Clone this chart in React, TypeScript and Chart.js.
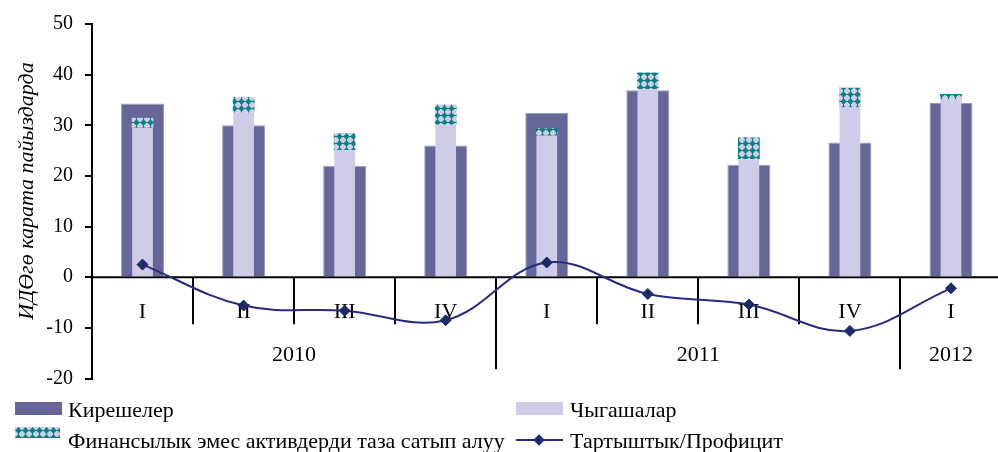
import React, { useEffect, useRef, useMemo } from 'react';
import { Chart, registerables } from 'chart.js';

Chart.register(...registerables);

const QUARTERS = ['I', 'II', 'III', 'IV', 'I', 'II', 'III', 'IV', 'I'];
const YEARS = ['2010', '2011', '2012'];
const YEAR_SPANS = [4, 4, 1];
const REVENUES = [34.3, 30.0, 22.0, 26.0, 32.5, 36.9, 22.2, 26.6, 34.4];
const EXPENSES = [29.5, 32.5, 25.1, 30.1, 28.0, 37.1, 23.3, 33.5, 35.1];
const NONFIN = [2.0, 3.1, 3.4, 4.0, 1.4, 3.3, 4.3, 3.9, 1.1];
const BALANCE = [2.5, -5.6, -6.6, -8.5, 2.9, -3.3, -5.4, -10.6, -2.2];
const Y_MIN = -20;
const Y_MAX = 50;
const Y_STEP = 10;
const Y_TITLE = 'ИДӨгө карата пайыздарда';
const LABELS = {
  rev: 'Кирешелер',
  exp: 'Чыгашалар',
  nonfin: 'Финансылык эмес активдерди таза сатып алуу',
  bal: 'Тартыштык/Профицит',
};

const C_REV = '#666699';
const C_EXP = '#CECCE6';
const C_TEAL = '#0A8080';
const C_LINE = '#2A2A80';
const C_POINT = '#1E2B6B';
const FONT = '"Liberation Serif", "Times New Roman", serif';

function makePatternCanvas() {
  const c = document.createElement('canvas');
  c.width = 7;
  c.height = 7;
  const g = c.getContext('2d')!;
  g.fillStyle = C_EXP;
  g.fillRect(0, 0, 7, 7);
  g.fillStyle = C_TEAL;
  g.fillRect(3, 0, 1, 7);
  g.fillRect(0, 3, 7, 1);
  g.beginPath();
  g.moveTo(3.5, 0.3);
  g.lineTo(6.7, 3.5);
  g.lineTo(3.5, 6.7);
  g.lineTo(0.3, 3.5);
  g.closePath();
  g.fill();
  g.fillStyle = C_EXP;
  g.beginPath();
  g.arc(0, 0, 1.6, 0, Math.PI * 2);
  g.arc(7, 0, 1.6, 0, Math.PI * 2);
  g.fill();
  return c;
}

const axisPlugin = {
  id: 'multiLevelAxis',
  beforeDatasetsDraw(chart: any) {
    const { ctx, chartArea, scales } = chart;
    const x = scales.x;
    const y = scales.y;
    const y0 = y.getPixelForValue(0);
    const half = (x.getPixelForValue(1) - x.getPixelForValue(0)) / 2;
    ctx.save();
    ctx.strokeStyle = '#000';
    ctx.lineWidth = 2;
    ctx.beginPath();
    ctx.moveTo(chartArea.left, y0);
    ctx.lineTo(chartArea.right, y0);
    ctx.stroke();

    const yearBounds = new Set<number>();
    let acc = 0;
    YEAR_SPANS.forEach((s) => {
      acc += s;
      yearBounds.add(acc);
    });
    ctx.lineWidth = 2;
    for (let i = 1; i < QUARTERS.length; i++) {
      const bx = Math.round(x.getPixelForValue(i) - half);
      const len = yearBounds.has(i) ? 92 : 47;
      ctx.beginPath();
      ctx.moveTo(bx, y0);
      ctx.lineTo(bx, y0 + len);
      ctx.stroke();
    }

    ctx.fillStyle = '#000';
    ctx.textAlign = 'center';
    ctx.textBaseline = 'middle';
    ctx.font = `22px ${FONT}`;
    QUARTERS.forEach((q, i) => ctx.fillText(q, x.getPixelForValue(i), y0 + 35));
    let start = 0;
    YEARS.forEach((yr, k) => {
      const end = start + YEAR_SPANS[k] - 1;
      const cx = (x.getPixelForValue(start) + x.getPixelForValue(end)) / 2;
      ctx.fillText(yr, cx, y0 + 78);
      start += YEAR_SPANS[k];
    });

    ctx.translate(27, 191);
    ctx.rotate(-Math.PI / 2);
    ctx.font = `italic 22px ${FONT}`;
    ctx.fillText(Y_TITLE, 0, 0);
    ctx.restore();
  },
};

export default function App() {
  const ref = useRef<HTMLCanvasElement | null>(null);
  const patternUrl = useMemo(() => makePatternCanvas().toDataURL(), []);

  useEffect(() => {
    const canvas = ref.current!;
    const pctx = canvas.getContext('2d')!;
    const pattern = pctx.createPattern(makePatternCanvas(), 'repeat')!;
    const chart = new Chart(canvas, {
      type: 'bar',
      data: {
        labels: QUARTERS.map((q, i) => `${q}-${i}`),
        datasets: [
          {
            type: 'line',
            label: LABELS.bal,
            data: BALANCE,
            borderColor: C_LINE,
            borderWidth: 2,
            tension: 0.38,
            pointStyle: 'rectRot',
            pointRadius: 5.5,
            pointBackgroundColor: C_POINT,
            pointBorderColor: C_POINT,
            pointBorderWidth: 1,
            stack: 'line',
            order: 0,
          } as any,
          {
            label: LABELS.exp,
            data: EXPENSES,
            backgroundColor: C_EXP,
            stack: 'exp',
            grouped: false,
            barPercentage: 0.205,
            categoryPercentage: 1,
            order: 1,
          },
          {
            label: LABELS.nonfin,
            data: NONFIN,
            backgroundColor: pattern,
            stack: 'exp',
            grouped: false,
            barPercentage: 0.215,
            categoryPercentage: 1,
            order: 2,
          },
          {
            label: LABELS.rev,
            data: REVENUES,
            backgroundColor: C_REV,
            borderColor: '#9A9AC0',
            borderWidth: 1,
            stack: 'rev',
            grouped: false,
            barPercentage: 0.425,
            categoryPercentage: 1,
            order: 3,
          },
        ],
      },
      options: {
        responsive: false,
        animation: false,
        layout: { padding: { top: 22, bottom: 73.5, left: 0, right: 0 } },
        plugins: { legend: { display: false }, tooltip: { enabled: false } },
        scales: {
          x: { display: false, stacked: false },
          y: {
            stacked: true,
            min: Y_MIN,
            max: Y_MAX,
            ticks: {
              stepSize: Y_STEP,
              color: '#000',
              padding: 12,
              font: { family: FONT, size: 20 },
            },
            grid: {
              drawOnChartArea: false,
              drawTicks: true,
              tickLength: 7,
              color: '#000',
              lineWidth: 2,
            },
            border: { display: true, color: '#000', width: 2 },
            afterFit: (s: any) => {
              s.width = 92;
            },
          },
        },
      },
      plugins: [axisPlugin],
    });
    return () => chart.destroy();
  }, []);

  const textStyle: React.CSSProperties = {
    position: 'absolute',
    fontFamily: FONT,
    fontSize: 22,
    lineHeight: '24px',
    height: 24,
    color: '#000',
    whiteSpace: 'nowrap',
  };

  return (
    <div
      style={{
        position: 'fixed',
        left: 0,
        top: 0,
        width: 998,
        height: 452,
        overflow: 'hidden',
        background: '#fff',
      }}
    >
      <canvas ref={ref} width={1008} height={452} style={{ display: 'block' }} />
      <div style={{ position: 'absolute', left: 15, top: 402, width: 47, height: 13, background: C_REV }} />
      <div style={{ ...textStyle, left: 68, top: 398 }}>{LABELS.rev}</div>
      <div style={{ position: 'absolute', left: 516, top: 402, width: 47, height: 13, background: C_EXP }} />
      <div style={{ ...textStyle, left: 570, top: 398 }}>{LABELS.exp}</div>
      <div
        style={{
          position: 'absolute',
          left: 15,
          top: 427,
          width: 45,
          height: 11,
          backgroundImage: `url(${patternUrl})`,
          backgroundRepeat: 'repeat',
        }}
      />
      <div style={{ ...textStyle, left: 68, top: 429 }}>{LABELS.nonfin}</div>
      <div style={{ position: 'absolute', left: 516, top: 439, width: 47, height: 2, background: C_LINE }} />
      <div
        style={{
          position: 'absolute',
          left: 535,
          top: 436,
          width: 8,
          height: 8,
          background: C_POINT,
          transform: 'rotate(45deg)',
        }}
      />
      <div style={{ ...textStyle, left: 570, top: 429 }}>{LABELS.bal}</div>
    </div>
  );
}
